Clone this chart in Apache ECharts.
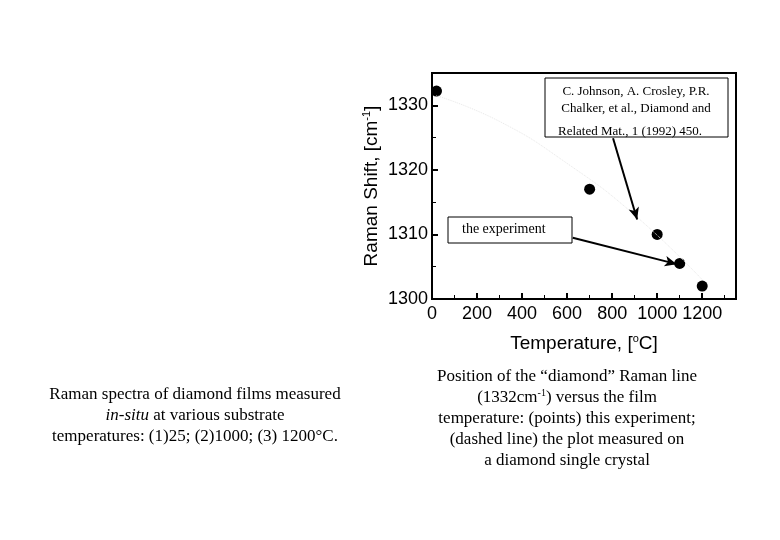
<!DOCTYPE html>
<html><head><meta charset="utf-8">
<script src="https://cdn.jsdelivr.net/npm/echarts@6/dist/echarts.min.js"></script>
<style>html,body{margin:0;background:#fff}#c{width:780px;height:540px}</style>
</head><body><div id="c"></div>
<script>
// measured points (this experiment)
var temps = [20, 700, 1000, 1100, 1200];
var shifts = [1332.2, 1317, 1310, 1305.5, 1302];
// faint dashed line: single crystal plot
var crystalT = [20, 300, 600, 900, 1200];
var crystalS = [1331.5, 1327.5, 1321, 1313, 1303];
var xTicks = [0, 200, 400, 600, 800, 1000, 1200];
var yTicks = [1300, 1310, 1320, 1330];

var myChart = echarts.init(document.getElementById('c'));
var serif = 'Liberation Serif';
var sans = 'Liberation Sans';
var option = {
  backgroundColor: '#fff',
  animation: false,
  grid: {left: 432, right: 44, top: 73, bottom: 241, show: true, borderColor: '#000', borderWidth: 2},
  xAxis: {
    type: 'value', min: 0, max: 1350, interval: 200,
    axisLine: {lineStyle: {color: '#000', width: 2}},
    axisTick: {inside: true, length: 6, lineStyle: {color: '#000', width: 2}},
    minorTick: {show: true, splitNumber: 2, length: 4, lineStyle: {color: '#000'}},
    splitLine: {show: false},
    axisLabel: {color: '#000', fontSize: 18, fontFamily: sans, margin: 6,
      formatter: function (v) { return xTicks.indexOf(v) >= 0 ? String(v) : ''; }},
    name: 'Temperature, [{s|o}C]', nameLocation: 'middle', nameGap: 34,
    nameTextStyle: {color: '#000', fontSize: 19, fontFamily: sans,
      rich: {s: {fontSize: 11, padding: [0, 0, 10, 0], fontFamily: sans}}}
  },
  yAxis: {
    type: 'value', min: 1300, max: 1335, interval: 10,
    axisLine: {lineStyle: {color: '#000', width: 2}},
    axisTick: {inside: true, length: 6, lineStyle: {color: '#000', width: 2}},
    minorTick: {show: true, splitNumber: 2, length: 4, lineStyle: {color: '#000'}},
    splitLine: {show: false},
    axisLabel: {color: '#000', fontSize: 18, fontFamily: sans, margin: 4,
      formatter: function (v) { return yTicks.indexOf(v) >= 0 ? String(v) : ''; }},
    name: 'Raman Shift, [cm{s|-1}]', nameLocation: 'middle', nameGap: 50,
    nameTextStyle: {color: '#000', fontSize: 19, fontFamily: sans,
      rich: {s: {fontSize: 11, padding: [0, 0, 10, 0], fontFamily: sans}}}
  },
  series: [
    {
      type: 'line', data: crystalT.map(function (t, i) { return [t, crystalS[i]]; }),
      symbol: 'none', smooth: true,
      lineStyle: {color: '#e8e8e8', width: 1, type: 'dotted'}
    },
    {
      type: 'scatter', symbolSize: 11, itemStyle: {color: '#000', opacity: 1},
      data: temps.map(function (t, i) { return [t, shifts[i]]; }),
      markLine: {
        silent: true, symbol: ['none', 'arrow'], symbolSize: [8, 12],
        label: {show: false},
        lineStyle: {color: '#000', width: 2, type: 'solid'},
        data: [
          [{coord: [804, 1324.9]}, {coord: [911, 1312.3]}],
          [{coord: [625, 1309.5]}, {coord: [1087, 1305.4]}]
        ]
      }
    }
  ],
  graphic: [
    {type: 'rect', shape: {x: 545, y: 78, width: 183, height: 59},
      style: {fill: '#fff', stroke: '#000', lineWidth: 1}, z: 10},
    {type: 'text', z: 11,
      style: {x: 636, y: 83, text: 'C. Johnson, A. Crosley, P.R.\nChalker, et al., Diamond and', align: 'center',
        font: '13px ' + serif, lineHeight: 17, fill: '#000'}},
    {type: 'text', z: 11,
      style: {x: 558, y: 125, text: 'Related Mat., 1 (1992) 450.', font: '13px ' + serif, fill: '#000'}},
    {type: 'rect', shape: {x: 448, y: 217, width: 124, height: 26},
      style: {fill: '#fff', stroke: '#000', lineWidth: 1}, z: 10},
    {type: 'text', z: 11,
      style: {x: 462, y: 222, text: 'the experiment', font: '14px ' + serif, fill: '#000'}},
    {type: 'text', z: 11,
      style: {x: 195, y: 384, text: 'Raman spectra of diamond films measured\n{i|in-situ} at various substrate\ntemperatures: (1)25; (2)1000; (3) 1200°C.',
        align: 'center', font: '17px ' + serif, lineHeight: 21, fill: '#000',
        rich: {i: {fontStyle: 'italic', fontSize: 17, fontFamily: serif}}}},
    {type: 'text', z: 11,
      style: {x: 567, y: 366, text: 'Position of the “diamond” Raman line\n(1332cm{s|-1}) versus the film\ntemperature: (points) this experiment;\n(dashed line) the plot measured on\na diamond single crystal',
        align: 'center', font: '17px ' + serif, lineHeight: 21, fill: '#000',
        rich: {s: {fontSize: 10, fontFamily: serif, padding: [0, 0, 8, 0]}}}}
  ]
};
myChart.setOption(option);
</script></body></html>
